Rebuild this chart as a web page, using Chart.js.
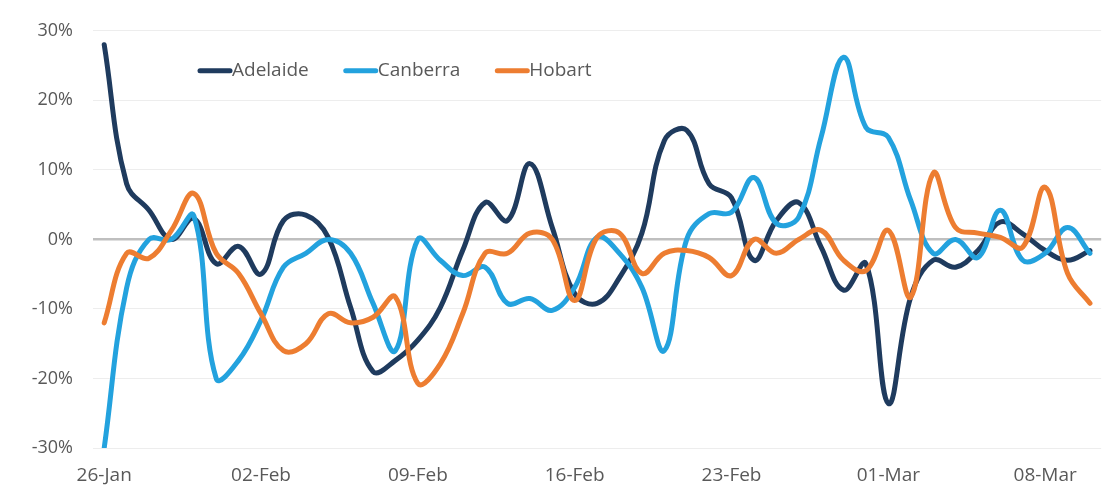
<!DOCTYPE html>
<html lang="en">
<head>
    <meta charset="UTF-8">
    <title>Daily change by city</title>
    <script src="https://cdn.jsdelivr.net/npm/chart.js"></script>
    <style>
        body {
            margin: 0;
            padding: 0;
            background-color: #ffffff;
        }
    </style>
</head>
<body>
    <canvas id="chart" width="1106" height="491"></canvas>

    <script>
        // one point per day, 26 Jan - 10 Mar
        const days = [
            '26-Jan', '27-Jan', '28-Jan', '29-Jan', '30-Jan', '31-Jan',
            '01-Feb', '02-Feb', '03-Feb', '04-Feb', '05-Feb', '06-Feb', '07-Feb', '08-Feb',
            '09-Feb', '10-Feb', '11-Feb', '12-Feb', '13-Feb', '14-Feb', '15-Feb',
            '16-Feb', '17-Feb', '18-Feb', '19-Feb', '20-Feb', '21-Feb', '22-Feb',
            '23-Feb', '24-Feb', '25-Feb', '26-Feb', '27-Feb', '28-Feb', '29-Feb',
            '01-Mar', '02-Mar', '03-Mar', '04-Mar', '05-Mar', '06-Mar', '07-Mar',
            '08-Mar', '09-Mar', '10-Mar'
        ];
        const tickLabels = ['26-Jan', '02-Feb', '09-Feb', '16-Feb', '23-Feb', '01-Mar', '08-Mar'];

        // values in percent
        const adelaide = [28, 8, 4.2, 0, 3, -3.5, -1, -5, 2.7, 3.5, 0.3, -9.8, -19, -17.4, -14.5,
            -9.8, -1.6, 5.3, 2.7, 10.9, 1.7, -7.8, -9.2, -5.5, 0.9, 14.2, 15.7, 8, 6, -3,
            2.7, 5.3, -1.1, -7.3, -3.5, -23.6, -8.3, -3, -4, -1.6, 2.5, 0.8, -1.6, -3, -1.6];
        const canberra = [-30, -7, 0, 0, 3.4, -20, -17.4, -11.6, -4, -2, 0, -2, -9.2, -16, 0,
            -3, -5.2, -4, -9.2, -8.5, -10.2, -6.9, 0.3, -2, -6.9, -16, 0, 3.7, 3.9, 8.9,
            2.3, 3.2, 14.7, 26.2, 16.1, 14.7, 5.6, -2, 0, -2.6, 4.2, -3, -2, 1.7, -2];
        const hobart = [-12, -2, -2.7, 1.3, 6.6, -2, -4.9, -10.7, -16, -15, -10.7, -12, -11.2, -8.3, -20.7,
            -17.9, -10.7, -2, -2, 0.9, 0, -8.8, 0.3, 0.9, -4.9, -2, -1.6, -2.6, -5.2, 0,
            -2, 0, 1.3, -3, -4.5, 1.3, -8.3, 9.5, 1.7, 0.9, 0.3, -1.1, 7.5, -4.9, -9.2];

        const textColor = '#595959';
        const fontFamily = '"Open Sans", sans-serif';

        // single-row legend drawn inside the plot (Chart.js puts a chartArea legend in a column)
        const insideLegend = {
            id: 'insideLegend',
            afterDraw(chart) {
                const ctx = chart.ctx;
                let x = chart.chartArea.left + 105;
                const y = chart.chartArea.top + 40;
                ctx.save();
                ctx.font = '19px ' + fontFamily;
                ctx.textBaseline = 'middle';
                ctx.textAlign = 'left';
                chart.data.datasets.forEach(ds => {
                    ctx.strokeStyle = ds.borderColor;
                    ctx.lineWidth = 5;
                    ctx.lineCap = 'round';
                    ctx.beginPath();
                    ctx.moveTo(x + 2, y);
                    ctx.lineTo(x + 32, y);
                    ctx.stroke();
                    ctx.fillStyle = textColor;
                    ctx.fillText(ds.label, x + 34, y);
                    x += 34 + ctx.measureText(ds.label).width + 35;
                });
                ctx.restore();
            }
        };

        function lineSet(label, data, color, order) {
            return {
                label: label,
                data: data,
                borderColor: color,
                backgroundColor: color,
                borderWidth: 5,
                pointRadius: 0,
                tension: 0.4,
                borderCapStyle: 'round',
                borderJoinStyle: 'round',
                order: order
            };
        }

        new Chart(document.getElementById('chart'), {
            type: 'line',
            data: {
                labels: days,
                datasets: [
                    lineSet('Adelaide', adelaide, '#1F3B5E', 3),
                    lineSet('Canberra', canberra, '#23A2DE', 2),
                    lineSet('Hobart', hobart, '#ED7D31', 1)
                ]
            },
            options: {
                responsive: false,
                animation: false,
                layout: {
                    padding: { left: 0, right: 3, top: 30, bottom: 0 }
                },
                plugins: {
                    tooltip: { enabled: false },
                    legend: { display: false }
                },
                scales: {
                    x: {
                        offset: true,
                        grid: { display: false, drawTicks: false },
                        border: { display: false },
                        afterFit(scale) { scale.height = 43; },
                        ticks: {
                            autoSkip: false,
                            maxRotation: 0,
                            padding: 16,
                            color: textColor,
                            font: { family: fontFamily, size: 19 },
                            callback: function (val, i) {
                                const lab = days[i];
                                return tickLabels.includes(lab) ? lab : '';
                            }
                        }
                    },
                    y: {
                        min: -30,
                        max: 30,
                        afterFit(scale) { scale.width = 93; },
                        border: { display: false },
                        grid: {
                            drawTicks: false,
                            color: ctx => ctx.tick.value === 0 ? '#BFBFBF' : '#EDEDED',
                            lineWidth: ctx => ctx.tick.value === 0 ? 2.5 : 1
                        },
                        ticks: {
                            stepSize: 10,
                            padding: 20,
                            color: textColor,
                            font: { family: fontFamily, size: 18 },
                            callback: v => v + '%'
                        }
                    }
                }
            },
            plugins: [insideLegend]
        });
    </script>
</body>
</html>
